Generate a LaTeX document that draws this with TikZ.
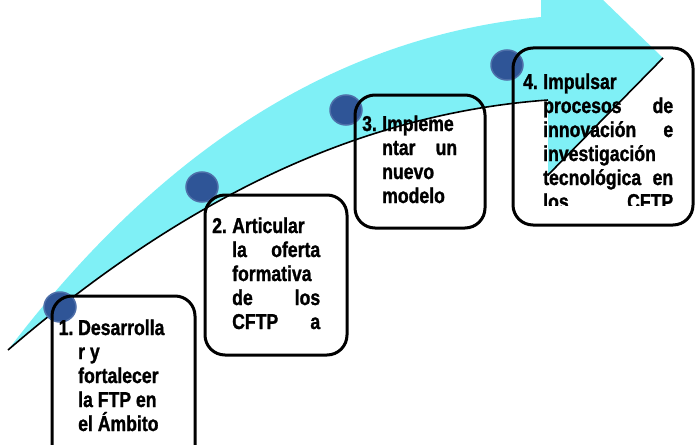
\documentclass[tikz,border=0pt]{standalone}
\usepackage{fontspec}
\setmainfont[FakeStretch=0.82, BoldFeatures={FakeBold=1.2}]{Liberation Sans}
\definecolor{cyanarrow}{HTML}{7FF0F6}
\definecolor{dotblue}{HTML}{2F5597}
\definecolor{dotedge}{HTML}{4E6FA9}
\begin{document}
\begin{tikzpicture}[x=1pt,y=-1pt,
  box/.style={draw=black, line width=3pt, rounded corners=20pt},
  dotmark/.style={fill=dotblue, draw=dotedge, line width=1.5pt},
  edge/.style={draw=black, line width=1.6pt},
  txt/.style={inner sep=0pt, anchor=base west, font=\fontsize{21.5}{24}\selectfont\bfseries},
]
\useasboundingbox (0,0) rectangle (695,444);
\clip (0,0) rectangle (695,444);

% curved arrow
\fill[cyanarrow] (8,350) .. controls (130,190) and (300,40) .. (541,17)
  -- (541,-60) -- (663,58) -- (548,175) -- (548,100)
  .. controls (355,114) and (180,202) .. (8,350) -- cycle;
\coordinate (tail) at (8,350);
\coordinate (shaftend) at (548,100);
\coordinate (tip) at (663,58);
\coordinate (barb) at (548,175);
\draw[edge] (tail) .. controls (180,202) and (355,114) .. (shaftend);
\draw[edge] (tip) -- (barb);

% dots
\path[dotmark] (60,307) ellipse [x radius=16, y radius=15];
\path[dotmark] (202,187) ellipse [x radius=16, y radius=15];
\path[dotmark] (346,110) ellipse [x radius=16, y radius=15];
\path[dotmark] (507,65) ellipse [x radius=16, y radius=15];

% boxes
\draw[box] (52,296) rectangle (195,470);
\draw[box] (205,195) rectangle (347,355);
\draw[box] (355,95) rectangle (485,228);
\draw[box] (513,48) rectangle (693,225);

% box 1 text
\node[txt] (n1) at (58.5,335) {1.};
\node[txt] (t1) at (78,335) {\parbox[t]{88pt}{\raggedright Desarrolla\\ r y\\ fortalecer\\ la FTP en\\ el Ámbito}};

% box 2 text
\begin{scope}
\clip (205,195) rectangle (347,338);
\node[txt] (n2) at (212,233) {2.};
\node[txt] (t2) at (232,233) {\parbox[t]{88pt}{Articular\\ \hbox to 88pt{la\hfill oferta}\\ formativa\\ \hbox to 88pt{de\hfill los}\\ \hbox to 88pt{CFTP\hfill a}}};
\end{scope}

% box 3 text
\node[txt] (n3) at (362,131) {3.};
\node[txt] (t3) at (382,131) {\parbox[t]{75pt}{Impleme\\ \hbox to 75pt{ntar\hfill un}\\ nuevo\\ modelo}};

% box 4 text
\begin{scope}
\clip (513,48) rectangle (693,205);
\node[txt] (n4) at (523,89) {4.};
\node[txt] (t4) at (543,89) {\parbox[t]{130pt}{Impulsar\\ \hbox to 130pt{procesos\hfill de}\\ \hbox to 130pt{innovación\hfill e}\\ investigación\\ \hbox to 130pt{tecnológica\hfill en}\\ \hbox to 130pt{los\hfill CFTP}}};
\end{scope}
\end{tikzpicture}
\end{document}
